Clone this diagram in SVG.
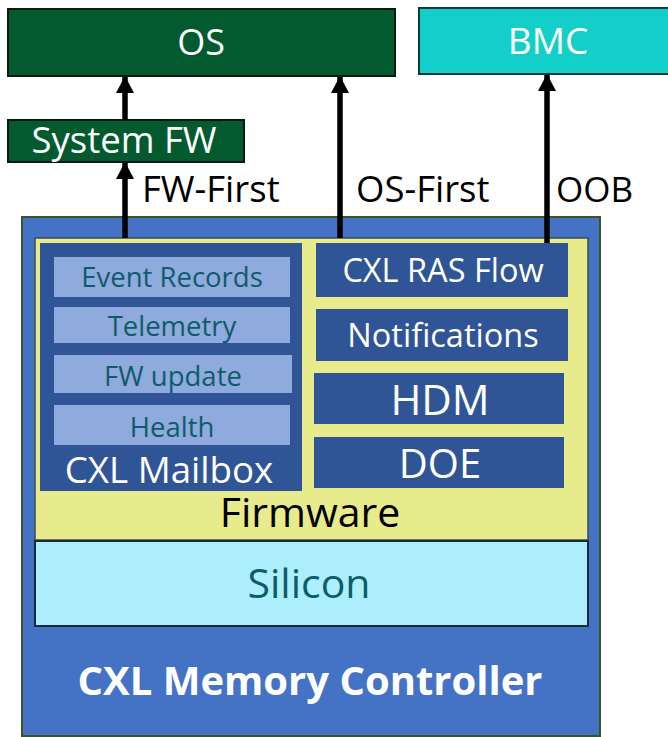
<svg xmlns="http://www.w3.org/2000/svg" width="668" height="737" viewBox="0 0 668 737">
<style>
text{font-family:"Open Sans","Noto Sans","Liberation Sans",sans-serif;text-anchor:middle}
.w{fill:#ffffff}
.k{fill:#000000}
.t{fill:#0E5C6B}
.green{fill:#035A2F;stroke:#0A1A10;stroke-width:2}
.dk{fill:#2F5597}
.lt{fill:#8FAADC}
.conn{stroke:#000;stroke-width:5.5;fill:none;marker-end:url(#ah)}
.lbl{text-anchor:start}
</style>
<defs>
<marker id="ah" markerUnits="userSpaceOnUse" markerWidth="17" markerHeight="18" refX="16" refY="9" orient="auto" viewBox="0 0 17 18">
<path d="M0,0 L17,9 L0,18 Z" fill="#000"/>
</marker>
</defs>
<g id="os"><rect class="green" x="8" y="9" width="387" height="67"/><text class="w" x="201" y="55" font-size="36">OS</text></g>
<g id="bmc"><rect x="419" y="8" width="250" height="66" fill="#14CFC9" stroke="#0A3A3A" stroke-width="2"/><text class="w" x="548" y="54" font-size="37">BMC</text></g>
<g id="sysfw"><rect class="green" x="8" y="120" width="236" height="42"/><text class="w" x="124" y="153" font-size="36.5">System FW</text></g>
<g id="controller">
<rect x="22" y="217" width="578" height="519" fill="#4472C4" stroke="#3B5326" stroke-width="2"/>
<text class="w" x="310" y="695" font-size="40" font-weight="bold">CXL Memory Controller</text>
</g>
<g id="firmware">
<rect x="35" y="238" width="553" height="302" fill="#E8EB8C" stroke="#3A4A5A" stroke-width="1.5"/>
<text class="k" x="310" y="527" font-size="41">Firmware</text>
</g>
<g id="silicon">
<rect x="35" y="541" width="553" height="85" fill="#ADEEFD" stroke="#1A2A3A" stroke-width="2"/>
<text class="t" x="309" y="598" font-size="41">Silicon</text>
</g>
<g id="mailbox">
<rect class="dk" x="40" y="243" width="262" height="248"/>
<text class="w" x="169" y="483" font-size="36.7">CXL Mailbox</text>
</g>
<g id="event-records"><rect class="lt" x="54" y="257" width="236" height="40"/><text class="t" x="172" y="287" font-size="27.5">Event Records</text></g>
<g id="telemetry"><rect class="lt" x="54" y="307" width="236" height="36"/><text class="t" x="172" y="336" font-size="27.5">Telemetry</text></g>
<g id="fw-update"><rect class="lt" x="54" y="355" width="238" height="38"/><text class="t" x="173" y="386" font-size="27.5">FW update</text></g>
<g id="health"><rect class="lt" x="54" y="405" width="236" height="40"/><text class="t" x="172" y="437" font-size="27.5">Health</text></g>
<g id="ras-flow"><rect class="dk" x="316" y="243" width="252" height="54"/><text class="w" x="443" y="282" font-size="32.5">CXL RAS Flow</text></g>
<g id="notifications"><rect class="dk" x="316" y="309" width="252" height="52"/><text class="w" x="443" y="347" font-size="32.5">Notifications</text></g>
<g id="hdm"><rect class="dk" x="314" y="373" width="250" height="51"/><text class="w" x="440" y="415" font-size="42">HDM</text></g>
<g id="doe"><rect class="dk" x="314" y="437" width="250" height="51"/><text class="w" x="440" y="478" font-size="40">DOE</text></g>
<g id="connectors">
<line class="conn" x1="125" y1="120" x2="125" y2="77"/>
<line class="conn" x1="125" y1="238" x2="125" y2="163"/>
<line class="conn" x1="340" y1="238" x2="340" y2="77"/>
<line class="conn" x1="547" y1="243" x2="547" y2="75"/>
<text class="k lbl" x="142" y="202" font-size="36.5">FW-First</text>
<text class="k lbl" x="356" y="202" font-size="36.5">OS-First</text>
<text class="k lbl" x="556" y="202" font-size="35">OOB</text>
</g>
</svg>
